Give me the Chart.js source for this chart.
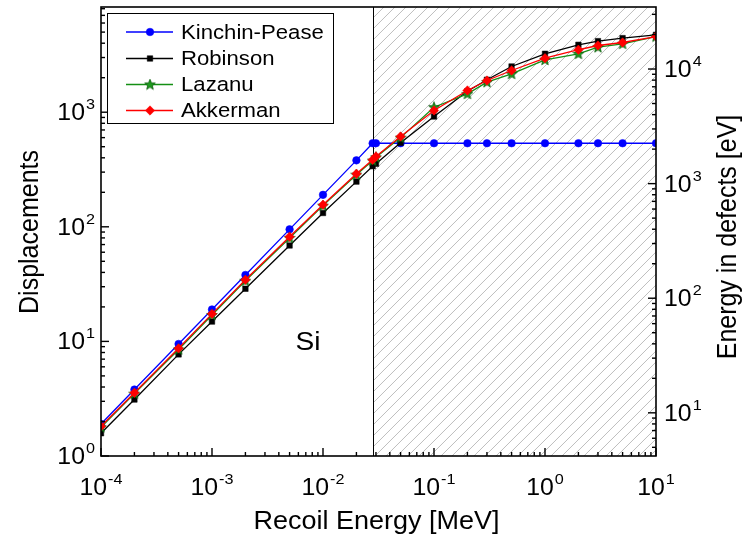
<!DOCTYPE html>
<html>
<head>
<meta charset="utf-8">
<script src="https://cdn.jsdelivr.net/npm/chart.js@4.4.0/dist/chart.umd.min.js"></script>
<style>
  html, body { margin: 0; padding: 0; background: #fff; }
</style>
</head>
<body>
<canvas id="myChart" width="749" height="548"></canvas>
<script>
// recoil energy [MeV]
var energies = [1e-4, 2e-4, 5e-4, 1e-3, 2e-3, 5e-3, 1e-2, 2e-2, 0.028, 0.03, 0.05, 0.1, 0.2, 0.3, 0.5, 1, 2, 3, 5, 10];

// displacements
var kinchinPease = [1.9, 3.8, 9.5, 19, 38, 95, 190, 380, 536, 536, 536, 536, 536, 536, 536, 536, 536, 536, 536, 536];
var robinson     = [1.58, 3.11, 7.7, 14.9, 28.8, 68.7, 132, 248, 338, 355, 541, 917, 1525, 1920, 2505, 3235, 3873, 4170, 4430, 4735];
var lazanu       = [1.78, 3.5, 8.5, 17.0, 33.8, 80, 153, 285, 378, 404, 600, 1106, 1446, 1828, 2162, 2865, 3235, 3690, 3955, 4575];
var akkerman     = [1.82, 3.56, 8.7, 17.4, 34.5, 82, 156, 290, 384, 411, 614, 1035, 1548, 1890, 2311, 2958, 3508, 3820, 4058, 4575];

var seriesNames = ["Kinchin-Pease", "Robinson", "Lazanu", "Akkerman"];

// tick labels (powers of ten)
var xTickPowers = [-4, -3, -2, -1, 0, 1];
var yTickPowers = [0, 1, 2, 3];
var y2TickPowers = [1, 2, 3, 4];

// threshold energy where the shaded (hatched) region begins
var thresholdEnergy = 0.0282;

// the original figure is a little wider than tall, so text is stretched sideways
var STRETCH = 1.08;
var FONT = "'Liberation Sans', Arial, sans-serif";

function points(values) {
  return energies.map(function (e, i) { return { x: e, y: values[i] }; });
}

function starImage(fill, stroke) {
  var c = document.createElement("canvas");
  c.width = 12; c.height = 12;
  var g = c.getContext("2d");
  g.beginPath();
  for (var i = 0; i < 10; i++) {
    var r = i % 2 === 0 ? 5.6 : 2.4;
    var a = -Math.PI / 2 + i * Math.PI / 5;
    var px = 6 + r * Math.cos(a), py = 6.3 + r * Math.sin(a);
    if (i === 0) g.moveTo(px, py); else g.lineTo(px, py);
  }
  g.closePath();
  g.fillStyle = fill; g.fill();
  g.lineWidth = 0.8; g.strokeStyle = stroke; g.stroke();
  return c;
}

var greenStar = starImage("#1f9a1f", "#0b5d0b");

var styles = [
  { color: "#0000ff", pointStyle: "circle", radius: 3.8 },
  { color: "#000000", pointStyle: "rect", radius: 3.9 },
  { color: "#148f14", pointStyle: greenStar, radius: 5 },
  { color: "#ff0000", pointStyle: "rectRot", radius: 4.7 }
];

var seriesValues = [kinchinPease, robinson, lazanu, akkerman];

var datasets = seriesValues.map(function (vals, i) {
  var s = styles[i];
  return {
    label: seriesNames[i],
    data: points(vals),
    borderColor: s.color,
    backgroundColor: s.color,
    pointBackgroundColor: s.color,
    pointBorderColor: s.color,
    borderWidth: 1.3,
    pointStyle: s.pointStyle,
    pointRadius: s.radius,
    pointBorderWidth: 0.5,
    order: 4 - i,
    tension: 0
  };
});

function wideText(ctx, text, x, y) {
  ctx.save();
  ctx.translate(x, y);
  ctx.scale(STRETCH, 1);
  ctx.fillText(text, 0, 0);
  ctx.restore();
}

function drawPow(ctx, x, y, exp, align) {
  var base = "10", ex = String(exp);
  ctx.font = "23px " + FONT;
  var wb = ctx.measureText(base).width * STRETCH;
  ctx.font = "15px " + FONT;
  var we = ctx.measureText(ex).width * STRETCH;
  var total = wb + we + 1;
  var start = align === "center" ? x - total / 2 : (align === "right" ? x - total : x);
  ctx.textAlign = "left";
  ctx.textBaseline = "alphabetic";
  ctx.font = "23px " + FONT;
  wideText(ctx, base, start, y);
  ctx.font = "15px " + FONT;
  wideText(ctx, ex, start + wb + 1, y - 11);
}

function logTicks(min, max) {
  var out = [];
  for (var d = Math.floor(Math.log10(min)); d <= Math.ceil(Math.log10(max)); d++) {
    for (var m = 1; m <= 9; m++) {
      var v = m * Math.pow(10, d);
      if (v >= min * 0.9999 && v <= max * 1.0001) out.push({ v: v, major: m === 1 });
    }
  }
  return out;
}

var framePlugin = {
  id: "frame",
  beforeDatasetsDraw: function (chart) {
    var ctx = chart.ctx, a = chart.chartArea, xs = chart.scales.x;
    var x0 = xs.getPixelForValue(thresholdEnergy);
    var h = a.bottom - a.top;
    ctx.save();
    ctx.beginPath();
    ctx.rect(x0, a.top, a.right - x0, h);
    ctx.clip();
    ctx.strokeStyle = "#bfbfbf";
    ctx.lineWidth = 1;
    for (var s = x0 - h; s < a.right + 11; s += 11) {
      ctx.beginPath();
      ctx.moveTo(s, a.bottom);
      ctx.lineTo(s + h, a.top);
      ctx.stroke();
    }
    ctx.restore();
    ctx.save();
    ctx.strokeStyle = "#000";
    ctx.lineWidth = 1;
    ctx.beginPath();
    ctx.moveTo(Math.round(x0) + 0.5, a.top);
    ctx.lineTo(Math.round(x0) + 0.5, a.bottom);
    ctx.stroke();
    ctx.restore();
  },
  afterDraw: function (chart) {
    var ctx = chart.ctx, a = chart.chartArea;
    var xs = chart.scales.x, ys = chart.scales.y, y2 = chart.scales.y2;
    ctx.save();
    ctx.strokeStyle = "#000";
    ctx.fillStyle = "#000";

    // frame
    ctx.lineWidth = 1.6;
    ctx.strokeRect(a.left, a.top, a.right - a.left, a.bottom - a.top);

    // inward ticks
    ctx.lineWidth = 1.4;
    logTicks(xs.min, xs.max).forEach(function (t) {
      var px = xs.getPixelForValue(t.v);
      ctx.beginPath();
      ctx.moveTo(px, a.bottom);
      ctx.lineTo(px, a.bottom - (t.major ? 8 : 4));
      ctx.stroke();
    });
    logTicks(ys.min, ys.max).forEach(function (t) {
      var py = ys.getPixelForValue(t.v);
      ctx.beginPath();
      ctx.moveTo(a.left, py);
      ctx.lineTo(a.left + (t.major ? 8 : 4), py);
      ctx.stroke();
    });
    logTicks(y2.min, y2.max).forEach(function (t) {
      var py = y2.getPixelForValue(t.v);
      ctx.beginPath();
      ctx.moveTo(a.right, py);
      ctx.lineTo(a.right - (t.major ? 8 : 4), py);
      ctx.stroke();
    });

    // tick labels
    xTickPowers.forEach(function (p) {
      drawPow(ctx, xs.getPixelForValue(Math.pow(10, p)), a.bottom + 39, p, "center");
    });
    yTickPowers.forEach(function (p) {
      drawPow(ctx, a.left - 6, ys.getPixelForValue(Math.pow(10, p)) + 8, p, "right");
    });
    y2TickPowers.forEach(function (p) {
      drawPow(ctx, a.right + 8, y2.getPixelForValue(Math.pow(10, p)) + 8, p, "left");
    });

    // axis titles
    ctx.font = "25px " + FONT;
    ctx.textAlign = "center";
    ctx.textBaseline = "middle";
    wideText(ctx, "Recoil Energy [MeV]", (a.left + a.right) / 2 - 2, 522);
    ctx.save();
    ctx.translate(31, 232);
    ctx.rotate(-Math.PI / 2);
    ctx.scale(1, STRETCH);
    ctx.fillText("Displacements", 0, 0);
    ctx.restore();
    ctx.save();
    ctx.translate(729, 237);
    ctx.rotate(-Math.PI / 2);
    ctx.scale(1, STRETCH);
    ctx.fillText("Energy in defects [eV]", 0, 0);
    ctx.restore();

    // material label
    ctx.font = "26px " + FONT;
    wideText(ctx, "Si", 308, 343);

    // legend
    var lx = 107, ly = 13, lw = 226, lh = 110;
    ctx.fillStyle = "#fff";
    ctx.fillRect(lx, ly, lw, lh);
    ctx.lineWidth = 1;
    ctx.strokeStyle = "#000";
    ctx.strokeRect(lx + 0.5, ly + 0.5, lw, lh);
    var rows = [32, 58.5, 84.5, 110.5];
    ctx.font = "20.5px " + FONT;
    ctx.textAlign = "left";
    ctx.textBaseline = "middle";
    seriesNames.forEach(function (name, i) {
      var s = styles[i], y = rows[i];
      ctx.strokeStyle = s.color;
      ctx.lineWidth = 1.3;
      ctx.beginPath();
      ctx.moveTo(126, y);
      ctx.lineTo(173, y);
      ctx.stroke();
      ctx.fillStyle = s.color;
      ctx.strokeStyle = s.color;
      ctx.lineWidth = 0.5;
      Chart.helpers.drawPoint(ctx, { pointStyle: s.pointStyle, radius: s.radius, rotation: 0, borderWidth: 0.5 }, 150, y);
      ctx.fillStyle = "#000";
      wideText(ctx, name, 181, y + 1);
    });
    ctx.restore();
  }
};

var config = {
  type: "line",
  data: { datasets: datasets },
  options: {
    responsive: false,
    animation: false,
    layout: { padding: { left: 101, right: 93, top: 7, bottom: 92 } },
    plugins: { legend: { display: false }, tooltip: { enabled: false } },
    scales: {
      x: { type: "logarithmic", min: 1e-4, max: 10, display: false },
      y: { type: "logarithmic", min: 1, max: 8280, display: false },
      y2: { type: "logarithmic", min: 4.2, max: 34770, display: false, position: "right" }
    }
  },
  plugins: [framePlugin]
};

var myChart = new Chart(document.getElementById("myChart"), config);
</script>
</body>
</html>
